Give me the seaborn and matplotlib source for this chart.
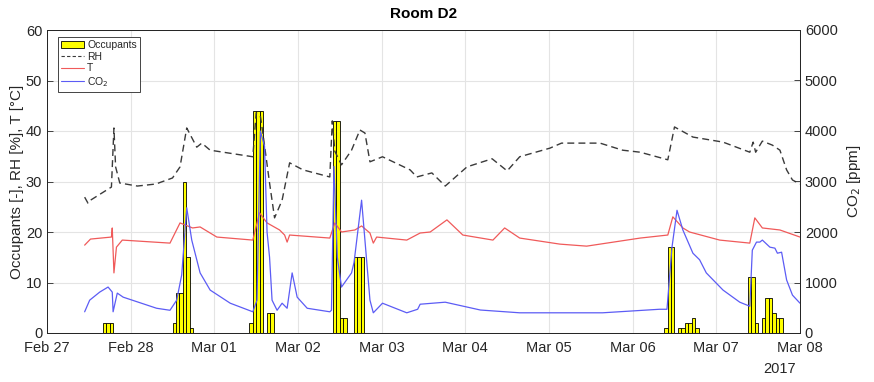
import numpy as np
import pandas as pd
import seaborn as sns
import matplotlib.pyplot as plt

# x positions are days after Feb 27 2017 00:00
day_labels = ["Feb 27", "Feb 28", "Mar 01", "Mar 02", "Mar 03",
              "Mar 04", "Mar 05", "Mar 06", "Mar 07", "Mar 08"]

# occupants: hour (since Feb 27 00:00) and head count
occ_hour = [16, 17, 18, 36, 37, 38, 39, 40, 41, 58, 59, 60, 61, 63, 64,
            82, 83, 84, 85, 88, 89, 90, 177, 178, 179, 181, 182, 183, 184, 185, 186,
            201, 202, 203, 205, 206, 207, 208, 209, 210]
occ_count = [2, 2, 2, 2, 8, 8, 30, 15, 1, 2, 44, 44, 44, 4, 4,
             42, 42, 3, 3, 15, 15, 15, 1, 17, 17, 1, 1, 2, 2, 3, 1,
             11, 11, 2, 3, 7, 7, 4, 3, 3]

rh_day = [0.45, 0.49, 0.52, 0.77, 0.80, 0.82, 0.87, 1.08, 1.30, 1.50,
          1.59, 1.67, 1.79, 1.85, 1.95, 2.46, 2.50, 2.55, 2.58, 2.66,
          2.72, 2.81, 2.90, 3.06, 3.38, 3.41, 3.44, 3.52, 3.64, 3.74,
          3.80, 3.86, 4.01, 4.34, 4.42, 4.60, 4.76, 5.02, 5.32, 5.50,
          5.65, 6.01, 6.15, 6.61, 6.88, 7.09, 7.42, 7.50, 7.72, 8.08,
          8.40, 8.44, 8.47, 8.55, 8.67, 8.76, 8.84, 8.91, 9.00]
rh_val = [26.9, 25.7, 26.3, 28.9, 40.6, 32.9, 29.7, 29.1, 29.5, 30.7,
          32.9, 40.6, 36.8, 37.6, 36.2, 34.9, 43.6, 43.0, 39.6, 29.7,
          22.8, 26.3, 33.7, 32.3, 30.9, 42.0, 36.0, 33.3, 36.2, 40.2,
          39.6, 33.9, 34.9, 32.3, 30.9, 31.7, 29.1, 32.9, 34.5, 32.1,
          34.9, 36.6, 37.6, 37.6, 36.2, 35.8, 34.3, 40.8, 38.8, 37.8,
          35.8, 37.8, 35.8, 38.0, 37.2, 36.2, 32.3, 30.3, 29.5]

t_day = [0.45, 0.52, 0.77, 0.78, 0.80, 0.83, 0.90, 1.47, 1.59, 1.65,
         1.74, 1.83, 2.03, 2.46, 2.54, 2.63, 2.78, 2.84, 2.87, 2.90,
         3.38, 3.44, 3.52, 3.68, 3.76, 3.86, 3.90, 3.94, 4.30, 4.46,
         4.58, 4.78, 4.97, 5.33, 5.47, 5.65, 6.13, 6.45, 7.09, 7.42,
         7.48, 7.60, 7.68, 8.04, 8.40, 8.46, 8.55, 8.76, 9.00]
t_val = [17.4, 18.6, 19.0, 20.8, 11.9, 17.0, 18.4, 17.8, 21.8, 21.4,
         20.8, 21.0, 19.0, 18.4, 23.8, 21.8, 20.4, 19.4, 18.0, 19.4,
         18.8, 21.8, 20.0, 20.4, 21.2, 19.8, 17.8, 19.0, 18.4, 19.8,
         20.0, 22.4, 19.4, 18.4, 20.8, 18.8, 17.6, 17.2, 18.8, 19.4,
         23.0, 20.8, 20.0, 18.4, 17.8, 22.8, 20.8, 20.4, 19.0]

co2_day = [0.45, 0.51, 0.63, 0.73, 0.78, 0.79, 0.84, 0.91, 1.31, 1.47,
           1.55, 1.61, 1.67, 1.73, 1.83, 1.95, 2.19, 2.46, 2.51, 2.55,
           2.60, 2.63, 2.66, 2.69, 2.75, 2.81, 2.87, 2.93, 2.99, 3.11,
           3.38, 3.40, 3.43, 3.47, 3.52, 3.64, 3.67, 3.76, 3.86, 3.90,
           4.01, 4.30, 4.43, 4.46, 4.76, 5.18, 5.65, 6.64, 7.32, 7.41,
           7.47, 7.53, 7.60, 7.72, 7.80, 7.88, 8.08, 8.28, 8.40, 8.43,
           8.48, 8.52, 8.55, 8.64, 8.70, 8.73, 8.78, 8.84, 8.91, 9.00]
co2_val = [420, 650, 810, 910, 810, 420, 790, 710, 490, 450,
           650, 1150, 2480, 1840, 1190, 850, 590, 420, 650, 4000,
           3700, 2000, 1500, 650, 450, 590, 490, 1190, 710, 490,
           420, 450, 3300, 1500, 910, 1190, 1400, 2630, 650, 400,
           590, 400, 470, 570, 610, 455, 400, 400, 470, 470,
           1700, 2430, 2040, 1580, 1450, 1190, 850, 610, 530, 1640,
           1800, 1800, 1840, 1700, 1680, 1580, 1600, 1050, 750, 590]

sns.set_theme(style="white")
plt.rcParams["font.family"] = ["Liberation Sans", "DejaVu Sans"]
plt.rcParams["xtick.direction"] = "in"
plt.rcParams["ytick.direction"] = "in"

dark = "#262626"
fig = plt.figure(figsize=(8.74, 3.82), dpi=100)
ax = fig.add_axes([47 / 874, 1 - 333 / 382, 753 / 874, 303 / 382])

ax.bar(np.array(occ_hour) / 24, occ_count, width=1 / 24, align="edge",
       color="#ffff00", edgecolor="black", linewidth=0.6, zorder=2)

rh = pd.DataFrame({"day": rh_day, "val": rh_val})
temp = pd.DataFrame({"day": t_day, "val": t_val})
co2 = pd.DataFrame({"day": co2_day, "val": co2_val})

sns.lineplot(data=rh, x="day", y="val", ax=ax, color="#3a3a3a",
             linestyle=(0, (5, 3)), linewidth=1.0, legend=False, zorder=3)
sns.lineplot(data=temp, x="day", y="val", ax=ax, color="#f05a5a",
             linewidth=0.9, legend=False, zorder=3)

ax2 = ax.twinx()
sns.lineplot(data=co2, x="day", y="val", ax=ax2, color="#5c5cf5",
             linewidth=0.9, legend=False)

ax.set_xlim(0, 9)
ax.set_ylim(0, 60)
ax2.set_ylim(0, 6000)
ax.set_xticks(range(10))
ax.set_xticklabels(day_labels)
ax.set_yticks(range(0, 61, 10))
ax2.set_yticks(range(0, 6001, 1000))
ax.grid(True, color="#e4e4e4", linewidth=0.8)
ax2.grid(False)
ax.set_axisbelow(True)

ax.set_xlabel("")
ax.set_ylabel("Occupants [-], RH [%], T [°C]", fontsize=11, color=dark, labelpad=1)
ax2.set_ylabel("CO$_2$ [ppm]", fontsize=11, color=dark, labelpad=5)
ax.set_title("Room D2", fontsize=11, fontweight="bold", color="black", pad=9)

for a in (ax, ax2):
    a.tick_params(labelsize=10.5, colors=dark, length=4, width=0.6)
    for s in a.spines.values():
        s.set_color(dark)
        s.set_linewidth(0.7)
ax.tick_params(axis="x", pad=5.5)

ax.annotate("2017", xy=(9, -0.118), xycoords=("data", "axes fraction"),
            xytext=(-3, 0), textcoords="offset points",
            ha="right", va="center", fontsize=10.5, color=dark)

handles = [
    plt.Rectangle((0, 0), 1, 1, facecolor="#ffff00", edgecolor="black", linewidth=0.6),
    plt.Line2D([], [], color="#3a3a3a", linestyle=(0, (3, 2)), linewidth=0.8),
    plt.Line2D([], [], color="#f05a5a", linewidth=0.8),
    plt.Line2D([], [], color="#5c5cf5", linewidth=0.8),
]
leg = ax2.legend(handles, ["Occupants", "RH", "T", "CO$_2$"], loc="upper left",
                 bbox_to_anchor=(11 / 753, 1 - 7 / 303), borderaxespad=0,
                 fontsize=7.5, handlelength=2.2, handleheight=0.6, labelspacing=0.15,
                 handletextpad=0.3, borderpad=0.3, fancybox=False, framealpha=1)
leg.get_frame().set_edgecolor(dark)
leg.get_frame().set_linewidth(0.6)

fig.savefig("out.png", dpi=100)
